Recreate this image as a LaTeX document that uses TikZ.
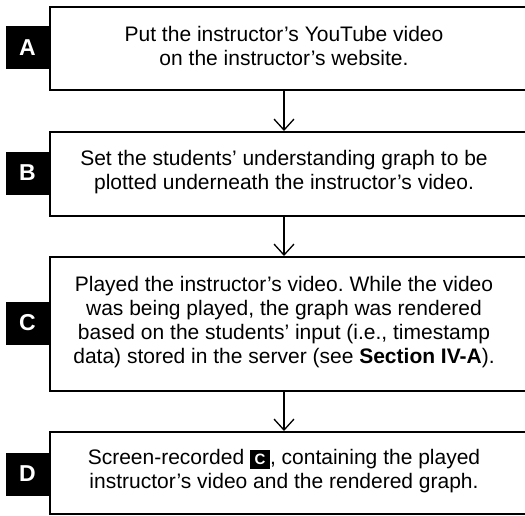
\documentclass[tikz,border=0pt]{standalone}
\usepackage{fontspec}
\setmainfont{Liberation Sans}
\usetikzlibrary{arrows.meta}
\frenchspacing
\newcommand{\inlinetag}[1]{\raisebox{-0.5pt}{\setlength{\fboxsep}{0pt}\colorbox{black}{\makebox[20pt]{\rule[-4.5pt]{0pt}{19.5pt}\textcolor{white}{\fontsize{15}{15}\selectfont\bfseries #1}}}}}
\begin{document}
\begin{tikzpicture}[x=1pt,y=-1pt,
  stepbox/.style={draw=black,line width=1.6pt,fill=white,rectangle,anchor=north west,minimum width=486pt,inner sep=0pt},
  steptext/.style={align=center,font=\fontsize{21}{24}\selectfont,inner sep=0pt},
  tagbox/.style={fill=black,text=white,minimum width=43pt,minimum height=43pt,inner sep=0pt,font=\fontsize{23}{23}\selectfont\bfseries},
  flow/.style={line width=1.3pt,-{Straight Barb[length=11pt,width=20pt,line width=1.3pt]}}]
\useasboundingbox (0,0) rectangle (525,515);
\clip (0,0) rectangle (525,515);
\fill[white] (0,0) rectangle (525,515);

% step frames (open towards the right edge)
\node[stepbox,minimum height=83pt] (boxA) at (49,6) {};
\node[stepbox,minimum height=84pt] (boxB) at (49,131) {};
\node[stepbox,minimum height=134pt] (boxC) at (49,256) {};
\node[stepbox,minimum height=82pt] (boxD) at (49,431) {};

% step letters
\node[tagbox] (tagA) at (27.5,47.5) {A};
\node[tagbox] (tagB) at (27.5,173) {B};
\node[tagbox] (tagC) at (27.5,323) {C};
\node[tagbox] (tagD) at (27.5,474) {D};

% step descriptions
\node[steptext] (txtA) at (284,46) {Put the instructor's YouTube video\\on the instructor's website.};
\node[steptext] (txtB) at (284,172) {Set the students' understanding graph to be\\plotted underneath the instructor's video.};
\node[steptext] (txtC) at (284,322) {Played the instructor's video. While the video\\was being played, the graph was rendered\\based on the students' input (i.e., timestamp\\data) stored in the server (see \textbf{Section IV-A}).};
\node[steptext] (txtD) at (284,471) {Screen-recorded \inlinetag{C}, containing the played\\instructor's video and the rendered graph.};

% flow between steps
\draw[flow] (boxA.south -| txtA) -- (boxB.north -| txtA);
\draw[flow] (boxB.south -| txtA) -- (boxC.north -| txtA);
\draw[flow] (boxC.south -| txtA) -- (boxD.north -| txtA);
\end{tikzpicture}
\end{document}
